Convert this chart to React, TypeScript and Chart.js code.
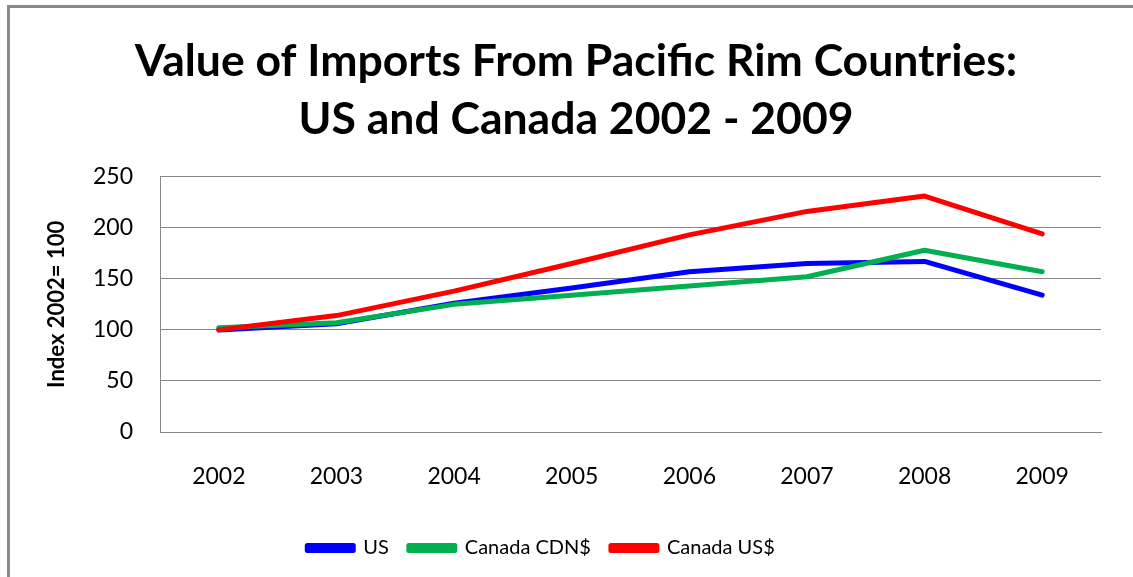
import React, { useEffect, useRef } from "react";
import { Chart, registerables } from "chart.js";

Chart.register(...registerables);

const years = ["2002", "2003", "2004", "2005", "2006", "2007", "2008", "2009"];
const usValues = [100, 106, 126, 141, 157, 165, 167, 134];
const canadaCdnValues = [102, 107, 125, 134, 143, 152, 178, 157];
const canadaUsdValues = [100, 114, 138, 165, 193, 216, 231, 194];
const titleLines = ["Value of Imports From Pacific Rim Countries:", "US and Canada 2002 - 2009"];
const yAxisTitle = "Index 2002= 100";

const FONT = "Lato, 'Noto Sans', sans-serif";
const GRID = "#878787";

const legendShift = {
  id: "legendShift",
  afterLayout(chart: any) {
    const lg = chart.legend;
    if (lg) {
      lg.left -= 35;
      lg.right -= 35;
    }
  },
};

export default function App() {
  const ref = useRef<HTMLCanvasElement | null>(null);

  useEffect(() => {
    if (!ref.current) return;
    const chart = new Chart(ref.current, {
      type: "line",
      data: {
        labels: years,
        datasets: [
          {
            label: "US",
            data: usValues,
            borderColor: "#0000FF",
            backgroundColor: "#0000FF",
            borderWidth: 5,
            pointRadius: 0,
            order: 2,
          },
          {
            label: "Canada CDN$",
            data: canadaCdnValues,
            borderColor: "#00B050",
            backgroundColor: "#00B050",
            borderWidth: 5,
            pointRadius: 0,
            order: 1,
          },
          {
            label: "Canada US$",
            data: canadaUsdValues,
            borderColor: "#FF0000",
            backgroundColor: "#FF0000",
            borderWidth: 5,
            pointRadius: 0,
            order: 0,
          },
        ],
      },
      plugins: [legendShift],
      options: {
        responsive: false,
        animation: false,
        layout: { padding: { left: 19, right: 0, top: 0, bottom: 9 } },
        elements: {
          line: { tension: 0, borderCapStyle: "round", borderJoinStyle: "round" },
        },
        plugins: {
          title: {
            display: true,
            text: titleLines,
            color: "#000",
            font: { family: FONT, size: 44.5, weight: "bold", lineHeight: 1.3 },
            padding: { top: 33, bottom: 28 },
          },
          legend: {
            position: "bottom",
            labels: {
              color: "#000",
              font: { family: FONT, size: 20 },
              boxWidth: 46,
              boxHeight: 5,
              padding: 20,
              sort: (a: any, b: any) => a.datasetIndex - b.datasetIndex,
            },
          },
          tooltip: { enabled: false },
        },
        scales: {
          x: {
            offset: true,
            grid: { display: false },
            border: { display: true, color: GRID },
            ticks: { color: "#000", font: { family: FONT, size: 23 }, padding: 23, maxRotation: 0 },
            afterFit: (s: any) => {
              s.height = 86;
            },
          },
          y: {
            min: 0,
            max: 250,
            ticks: { stepSize: 50, color: "#000", font: { family: FONT, size: 23 }, padding: 27 },
            grid: { color: GRID, lineWidth: 1, drawTicks: false },
            border: { display: true, color: GRID, width: 1 },
            title: {
              display: true,
              text: yAxisTitle,
              color: "#000",
              font: { family: FONT, size: 22, weight: "bold" },
              padding: { top: 25, bottom: 0 },
            },
            afterFit: (s: any) => {
              s.width = 141;
            },
          },
          yRight: {
            position: "right",
            display: true,
            min: 0,
            max: 250,
            grid: { display: false, drawOnChartArea: false },
            border: { display: false },
            ticks: { display: false },
            afterFit: (s: any) => {
              s.width = 32;
            },
          },
        },
      },
    });
    return () => chart.destroy();
  }, []);

  return (
    <div style={{ position: "fixed", left: 0, top: 0, width: 1133, height: 577, overflow: "hidden", background: "#fff" }}>
      <div
        style={{
          position: "absolute",
          left: 7,
          top: 5,
          width: 1200,
          height: 700,
          borderLeft: "3px solid #8a8a8a",
          borderTop: "3px solid #8a8a8a",
        }}
      />
      <canvas ref={ref} width={1133} height={577} style={{ position: "absolute", left: 0, top: 0 }} />
    </div>
  );
}
